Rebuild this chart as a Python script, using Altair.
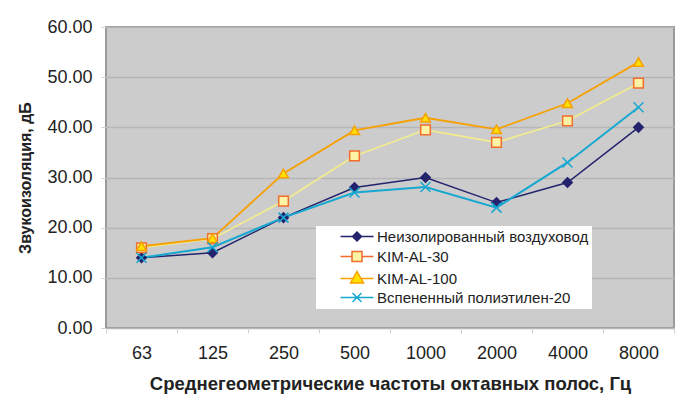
import altair as alt
import pandas as pd

# Octave-band centre frequencies, Hz
freqs = ["63", "125", "250", "500", "1000", "2000", "4000", "8000"]

series_names = [
    "Неизолированный воздуховод",
    "KIM-AL-30",
    "KIM-AL-100",
    "Вспененный полиэтилен-20",
]

# Sound insulation, dB
bare_duct = [14.0, 15.0, 22.0, 28.0, 30.0, 25.0, 29.0, 40.0]
kim_al_30 = [16.0, 17.8, 25.3, 34.3, 39.5, 37.0, 41.3, 48.8]
kim_al_100 = [16.3, 17.9, 30.8, 39.4, 41.9, 39.6, 44.8, 53.0]
pe_foam_20 = [14.0, 16.1, 22.0, 27.0, 28.1, 24.0, 33.0, 44.0]

line_colors = ["#23236e", "#f3ec8c", "#f7a000", "#16a8d0"]
line_widths = [1.5, 2.0, 2.5, 1.5]
marker_fill = ["#23236e", "#fdf3a4", "#ffe000", "#16a8d0"]
marker_stroke = ["#23236e", "#f26c2c", "#f7a000", "#16a8d0"]
marker_shapes = [
    "diamond",
    "square",
    "triangle-up",
    "M-1,-1L1,1M-1,1L1,-1",
]
marker_sizes = [90, 100, 170, 80]

# legend glyphs: short line segment with the marker in the middle
legend_glyphs = [
    "M-5.6,0H1M-3.2,0L-2.3,-0.9L-1.4,0L-2.3,0.9Z",
    "M-5.6,0H-3.3M-1.3,0H1M-3.3,-1V1H-1.3V-1Z",
    "M-5.6,0H-3.1M-1.5,0H1M-2.3,-1.4L-1.0,0.9L-3.6,0.9Z",
    "M-5.6,0H1M-3.2,-0.9L-1.4,0.9M-3.2,0.9L-1.4,-0.9",
]

rows = []
for name, vals in zip(series_names, [bare_duct, kim_al_30, kim_al_100, pe_foam_20]):
    for f, v in zip(freqs, vals):
        rows.append({"freq": f, "series": name, "value": v, "order": series_names.index(name)})
df = pd.DataFrame(rows)

FONT = "Liberation Sans"

x_enc = alt.X(
    "freq:N",
    sort=freqs,
    bandPosition=0.5,
    scale=alt.Scale(type="band", paddingInner=0, paddingOuter=0),
    axis=alt.Axis(
        title="Среднегеометрические частоты октавных полос, Гц",
        titleFontSize=18.5,
        labelAngle=0,
        tickBand="extent",
        tickSize=5,
        labelPadding=11,
        titlePadding=12,
    ),
)
y_enc = alt.Y(
    "value:Q",
    scale=alt.Scale(domain=[0, 60], nice=False),
    axis=alt.Axis(
        title="Звукоизоляция, дБ",
        titleFontSize=16,
        values=[0, 10, 20, 30, 40, 50, 60],
        format=".2f",
        tickSize=5,
        labelPadding=9,
        titlePadding=13,
    ),
)

base = alt.Chart(df)

lines = base.mark_line().encode(
    x=x_enc,
    y=y_enc,
    color=alt.Color("series:N", sort=series_names,
                    scale=alt.Scale(domain=series_names, range=line_colors), legend=None),
    strokeWidth=alt.StrokeWidth("series:N", sort=series_names,
                                scale=alt.Scale(domain=series_names, range=line_widths), legend=None),
    order=alt.Order("order:Q"),
)

points = base.mark_point(filled=False, opacity=1, strokeWidth=1.5).encode(
    x=x_enc,
    y=y_enc,
    shape=alt.Shape("series:N", scale=alt.Scale(domain=series_names, range=marker_shapes), legend=None),
    fill=alt.Fill("series:N", scale=alt.Scale(domain=series_names, range=marker_fill), legend=None),
    stroke=alt.Stroke("series:N", scale=alt.Scale(domain=series_names, range=marker_stroke), legend=None),
    size=alt.Size("series:N", scale=alt.Scale(domain=series_names, range=marker_sizes), legend=None),
    order=alt.Order("order:Q"),
)

legend_spec = alt.Legend(
    title=None,
    orient="none",
    legendX=210,
    legendY=199,
    padding=3,
    fillColor="white",
    symbolOffset=42,
    labelOffset=1,
    rowPadding=3,
    labelFontSize=15,
    labelFont=FONT,
    labelColor="#222222",
    symbolOpacity=1,
    symbolStrokeWidth=1.5,
    labelLimit=400,
)

legend_layer = base.mark_point(size=100, filled=False, strokeWidth=1.5).encode(
    x=x_enc,
    y=y_enc,
    opacity=alt.value(0),
    shape=alt.Shape("series:N", scale=alt.Scale(domain=series_names, range=legend_glyphs), legend=legend_spec),
    fill=alt.Fill("series:N", scale=alt.Scale(domain=series_names, range=marker_fill), legend=legend_spec),
    stroke=alt.Stroke("series:N", scale=alt.Scale(domain=series_names, range=marker_stroke), legend=legend_spec),
)

chart = (
    alt.layer(lines, points, legend_layer)
    .resolve_scale(shape="independent", fill="independent", stroke="independent")
    .properties(
        width=568,
        height=301,
        autosize=alt.AutoSizeParams(type="none"),
        padding={"left": 106, "top": 27, "right": 26, "bottom": 88},
        background="white",
    )
    .configure_view(fill="#cccccc", stroke="#9a9a9a", strokeWidth=2)
    .configure_axis(
        labelFont=FONT,
        titleFont=FONT,
        labelFontSize=18,
        titleFontWeight="bold",
        labelColor="#222222",
        titleColor="#222222",
        domain=False,
        tickColor="#d0d0d0",
        gridColor="#b6b6b6",
        gridWidth=1.5,
    )
    .configure_axisX(grid=False)
    .configure_axisY(grid=True)
)

chart.save("out.html", embed_options={"renderer": "svg", "actions": False})
